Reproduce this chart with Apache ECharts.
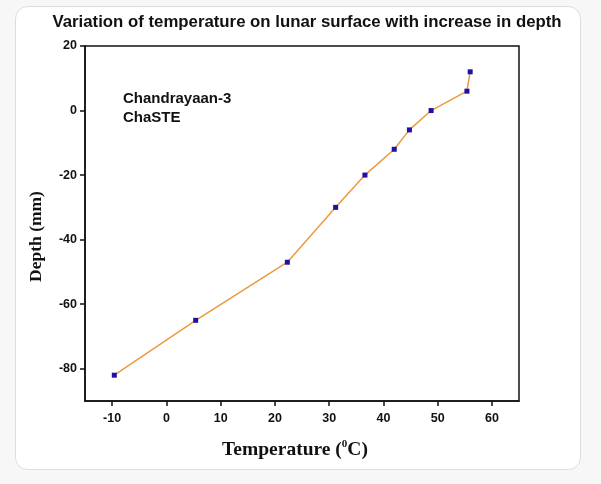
<!DOCTYPE html>
<html>
<head>
<meta charset="utf-8">
<script src="https://cdn.jsdelivr.net/npm/echarts@6/dist/echarts.min.js"></script>
<style>
html,body{margin:0;padding:0;background:#f7f7f7;}
#chart{width:601px;height:484px;}
</style>
</head>
<body>
<div id="chart"></div>
<script>
const temperature = [-9.6, 5.4, 22.3, 31.2, 36.6, 42.0, 44.8, 48.8, 55.4, 56.0];
const depth = [-82, -65, -47, -30, -20, -12, -6, 0, 6, 12];
const xTicks = [-10, 0, 10, 20, 30, 40, 50, 60];
const yTicks = [-80, -60, -40, -20, 0, 20];
const titleText = 'Variation of temperature on lunar surface with increase in depth';
const noteLines = ['Chandrayaan-3', 'ChaSTE'];

const chart = echarts.init(document.getElementById('chart'));
const points = temperature.map((t, i) => [t, depth[i]]);

chart.setOption({
  backgroundColor: 'transparent',
  animation: false,
  graphic: [
    {
      type: 'rect', z: -10, silent: true,
      shape: { x: 15.5, y: 6.5, width: 565, height: 463, r: 12 },
      style: { fill: '#ffffff', stroke: '#dcdcdc', lineWidth: 1 }
    },
    {
      type: 'text', left: 123, top: 89,
      style: { text: noteLines.join('\n'), font: 'bold 15px "Liberation Sans", Arial, sans-serif', fill: '#111', lineHeight: 19 }
    }
  ],
  title: {
    text: titleText,
    left: 302, top: 9, textAlign: 'center',
    textStyle: { fontFamily: '"Liberation Sans", Arial, sans-serif', fontWeight: 'bold', fontSize: 16.8, color: '#111' }
  },
  grid: {
    left: 85, right: 82, top: 46, bottom: 83,
    show: true, borderColor: '#111', borderWidth: 1.5, backgroundColor: '#fff'
  },
  xAxis: {
    type: 'value', min: -15, max: 65,
    name: '{b|Temperature (}{s|0}{b|C)}',
    nameLocation: 'middle', nameGap: 38,
    nameTextStyle: {
      padding: [0, 14, 0, 0],
      rich: {
        b: { fontFamily: '"Liberation Serif", "Times New Roman", serif', fontWeight: 'bold', fontSize: 19.5, color: '#111' },
        s: { fontFamily: '"Liberation Serif", "Times New Roman", serif', fontWeight: 'bold', fontSize: 11, color: '#111', verticalAlign: 'top', padding: [0, 0, 10, 0] }
      }
    },
    splitLine: { show: false },
    axisLine: { onZero: false, lineStyle: { color: '#111', width: 1.5 } },
    axisTick: { show: true, length: 5, inside: false, customValues: xTicks, lineStyle: { color: '#111', width: 1.5 } },
    axisLabel: { customValues: xTicks, margin: 11, fontFamily: '"Liberation Sans", Arial, sans-serif', fontWeight: 'bold', fontSize: 12.5, color: '#111' }
  },
  yAxis: {
    type: 'value', min: -90, max: 20,
    name: 'Depth (mm)',
    nameLocation: 'middle', nameGap: 40, nameRotate: 90,
    nameTextStyle: { padding: [0, 26, 0, 0], fontFamily: '"Liberation Serif", "Times New Roman", serif', fontWeight: 'bold', fontSize: 17.5, color: '#111' },
    splitLine: { show: false },
    axisLine: { onZero: false, lineStyle: { color: '#111', width: 1.5 } },
    axisTick: { show: true, length: 5, inside: false, customValues: yTicks, lineStyle: { color: '#111', width: 1.5 } },
    axisLabel: { customValues: yTicks, margin: 8, fontFamily: '"Liberation Sans", Arial, sans-serif', fontWeight: 'bold', fontSize: 12.5, color: '#111' }
  },
  series: [{
    type: 'line',
    data: points,
    symbol: 'rect', symbolSize: 5,
    lineStyle: { color: '#ec9a3c', width: 1.5 },
    itemStyle: { color: '#1f10a8' }
  }]
});
</script>
</body>
</html>
